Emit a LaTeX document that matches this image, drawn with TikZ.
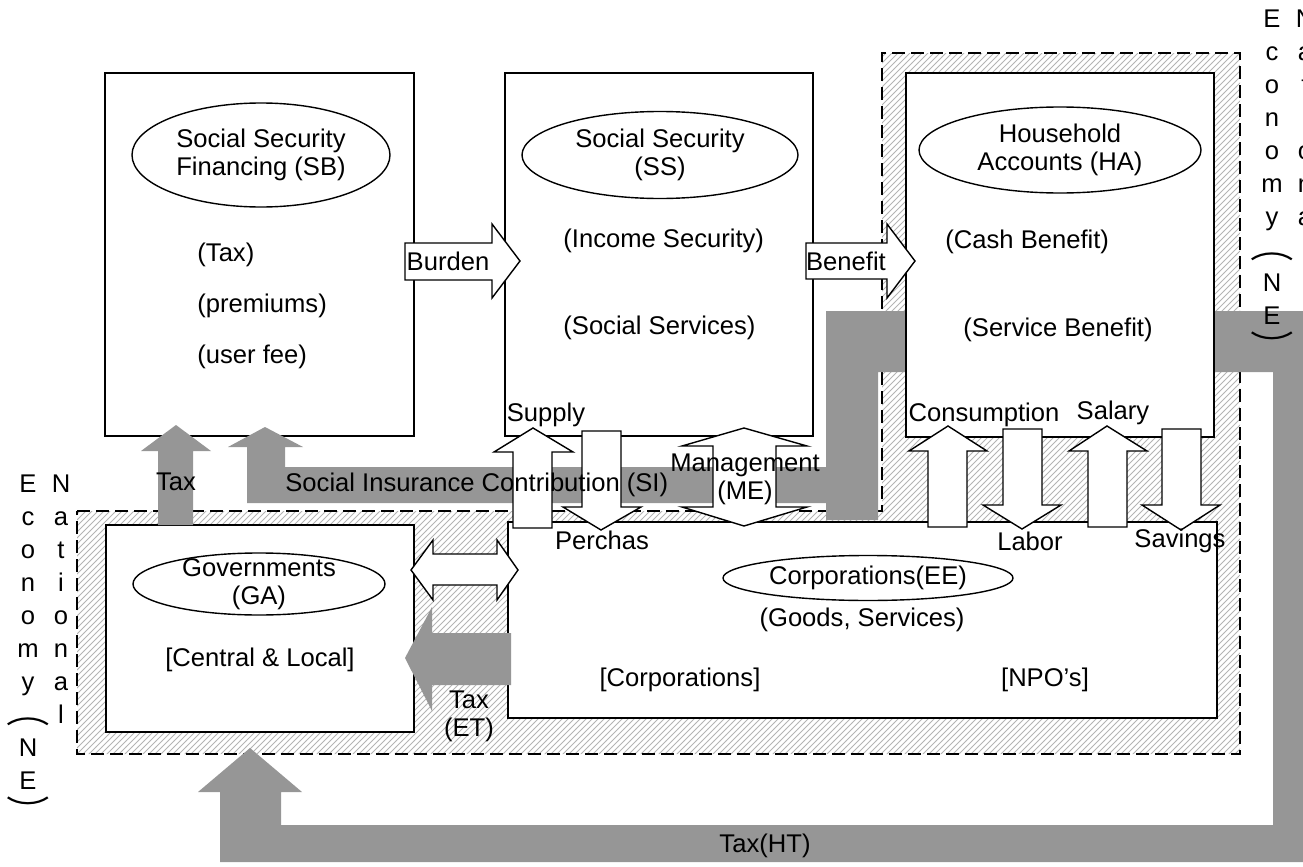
\documentclass[tikz,border=0pt]{standalone}
\usepackage{fontspec}
\setmainfont{Liberation Sans}
\newfontfamily\cjkfont{Noto Sans CJK JP}
\usetikzlibrary{patterns,shapes.geometric}
\definecolor{flowgray}{RGB}{150,150,150}
\definecolor{hatchgray}{RGB}{180,180,180}

\newcommand\vopen{\scalebox{1.7}[1.2]{\cjkfont ︵}}
\newcommand\vclose{\scalebox{1.7}[1.2]{\cjkfont ︶}}

\tikzset{
  box/.style={draw, line width=0.8pt, fill=white, inner sep=0pt},
  ell/.style={draw, ellipse, line width=0.7pt, fill=white, inner sep=0pt},
  zone/.style={draw, line width=1.3pt, dash pattern=on 6.5pt off 3pt},
  warrow/.style={draw, fill=white, line width=0.7pt, line join=miter},
  garrow/.style={fill=flowgray},
  lbl/.style={font=\fontsize{12.8}{14}\selectfont, inner sep=0pt, align=center},
  vtext/.style={font=\fontsize{12.8}{16.5}\selectfont, inner sep=0pt, align=center, anchor=north}
}

\begin{document}
\begin{tikzpicture}[x=0.5pt,y=-0.5pt]
\useasboundingbox (0,0) rectangle (1303,867);

% national economy zone: hatched L-shaped area with dashed outline
\path[pattern=north east lines, pattern color=hatchgray]
  (77,511) -- (882,511) -- (882,53) -- (1240,53) -- (1240,754) -- (77,754) -- cycle;
\path[zone] (77,511) -- (882,511) -- (882,53) -- (1240,53) -- (1240,754) -- (77,754) -- cycle;

% account boxes
\node[box, minimum width=154.5pt, minimum height=181.5pt] (sb) at (259.5,254.5) {};
\node[box, minimum width=154pt, minimum height=181.5pt] (ss) at (659,254.5) {};
\node[box, minimum width=154pt, minimum height=103.5pt] (ga) at (260,628.5) {};
\node[box, minimum width=354.5pt, minimum height=98pt] (ee) at (862.5,620) {};

% social insurance contribution flow
\fill[garrow] (247,503) -- (247,447) -- (228,447) -- (265,427) -- (303,447) -- (285,447)
  -- (285,467) -- (826,467) -- (826,311) -- (960,311) -- (960,372) -- (878,372)
  -- (878,520) -- (826,520) -- (826,503) -- cycle;
% household tax flow
\fill[garrow] (1150,311) -- (1303,311) -- (1303,862) -- (220,862) -- (220,792) -- (198,792)
  -- (250,748) -- (302,792) -- (281,792) -- (281,825) -- (1273,825) -- (1273,372)
  -- (1150,372) -- cycle;
% government tax to financing
\fill[garrow] (158,525) -- (158,451) -- (141,451) -- (176,425) -- (211,451) -- (193,451)
  -- (193,525) -- cycle;
% corporate tax to government
\fill[garrow] (511,633) -- (432,633) -- (432,607) -- (405,658) -- (432,711) -- (432,685)
  -- (511,685) -- cycle;

\node[box, minimum width=154pt, minimum height=182pt] (ha) at (1060,255) {};

% white block arrows
\path[warrow] (405,243) -- (492,243) -- (492,224) -- (520,261) -- (492,298) -- (492,280) -- (405,280) -- cycle;
\path[warrow] (806,243) -- (887,243) -- (887,224) -- (915,261) -- (887,298) -- (887,279) -- (806,279) -- cycle;
\path[warrow] (411,570) -- (433,540) -- (433,554) -- (497,554) -- (497,540) -- (518,570)
  -- (497,600) -- (497,585) -- (433,585) -- (433,600) -- cycle;
\path[warrow] (513,528) -- (513,452) -- (494,452) -- (533,428) -- (573,452) -- (552,452) -- (552,528) -- cycle;
\path[warrow] (582,431) -- (621,431) -- (621,507) -- (641,507) -- (601,530) -- (563,507) -- (582,507) -- cycle;
\path[warrow] (744,428) -- (807,446) -- (776,446) -- (776,507) -- (807,507) -- (744,526)
  -- (682,507) -- (713,507) -- (713,446) -- (682,446) -- cycle;
\path[warrow] (928,527) -- (928,451) -- (909,451) -- (948,426) -- (987,451) -- (967,451) -- (967,527) -- cycle;
\path[warrow] (1003,429) -- (1042,429) -- (1042,505) -- (1061,505) -- (1022,529) -- (983,505) -- (1003,505) -- cycle;
\path[warrow] (1088,527) -- (1088,451) -- (1069,451) -- (1107,426) -- (1147,451) -- (1127,451) -- (1127,527) -- cycle;
\path[warrow] (1162,429) -- (1201,429) -- (1201,505) -- (1220,505) -- (1181,530) -- (1142,505) -- (1162,505) -- cycle;

% ellipses
\node[ell, minimum width=129pt, minimum height=52pt] (sbe) at (261,155) {};
\node[ell, minimum width=138pt, minimum height=43.5pt] (sse) at (660,155) {};
\node[ell, minimum width=141pt, minimum height=43pt] (hae) at (1060,150) {};
\node[ell, minimum width=126pt, minimum height=31pt] (gae) at (259,584) {};
\node[ell, minimum width=145pt, minimum height=22.5pt] (eee) at (868,578) {};

% ellipse titles
\node[lbl] (sbt) at (sbe) {Social Security\\Financing (SB)};
\node[lbl] (sst) at (sse) {Social Security\\(SS)};
\node[lbl] (hat) at (hae) {Household\\Accounts (HA)};
\node[lbl] (gat) at (gae) {Governments\\(GA)};
\node[lbl] (eet) at (eee) {Corporations(EE)};

% box contents
\node[lbl, anchor=west] (sb1) at (197,255) {(Tax)};
\node[lbl, anchor=west] (sb2) at (197,306) {(premiums)};
\node[lbl, anchor=west] (sb3) at (197,357) {(user fee)};
\node[lbl, anchor=west] (ss1) at (563,241) {(Income Security)};
\node[lbl, anchor=west] (ss2) at (563,328) {(Social Services)};
\node[lbl, anchor=west] (ha1) at (945,242) {(Cash Benefit)};
\node[lbl, anchor=west] (ha2) at (963,330) {(Service Benefit)};
\node[lbl] (ga1) at (260,660) {[Central \& Local]};
\node[lbl] (ee1) at (862,620) {(Goods, Services)};
\node[lbl] (ee2) at (680,680) {[Corporations]};
\node[lbl] (ee3) at (1045,680) {[NPO’s]};

% flow labels
\node[lbl] (burden) at (448,261) {Burden};
\node[lbl] (benefit) at (846,261) {Benefit};
\node[lbl] (taxsb) at (176,482) {Tax};
\node[lbl, anchor=west] (si) at (285,485) {Social Insurance Contribution (SI)};
\node[lbl] (supply) at (546,415) {Supply};
\node[lbl] (perchas) at (602,540) {Perchas};
\node[lbl] (manage) at (745,479) {Management\\(ME)};
\node[lbl] (taxet) at (469,716) {Tax\\(ET)};
\node[lbl] (cons) at (984,415) {Consumption};
\node[lbl] (salary) at (1113,413) {Salary};
\node[lbl] (labor) at (1030,541) {Labor};
\node[lbl] (savings) at (1180,541) {Savings};
\node[lbl] (taxht) at (765,846) {Tax(HT)};

% vertical zone captions (two columns each, read right to left)
\node[vtext] (neL1) at (28,474) {E\\c\\o\\n\\o\\m\\y\\\vopen\\N\\E\\\vclose};
\node[vtext] (neL2) at (61,474) {N\\a\\t\\i\\o\\n\\a\\l};
\node[vtext] (neR1) at (1272,9) {E\\c\\o\\n\\o\\m\\y\\\vopen\\N\\E\\\vclose};
\node[vtext] (neR2) at (1305,9) {N\\a\\t\\i\\o\\n\\a\\l};
\end{tikzpicture}
\end{document}
